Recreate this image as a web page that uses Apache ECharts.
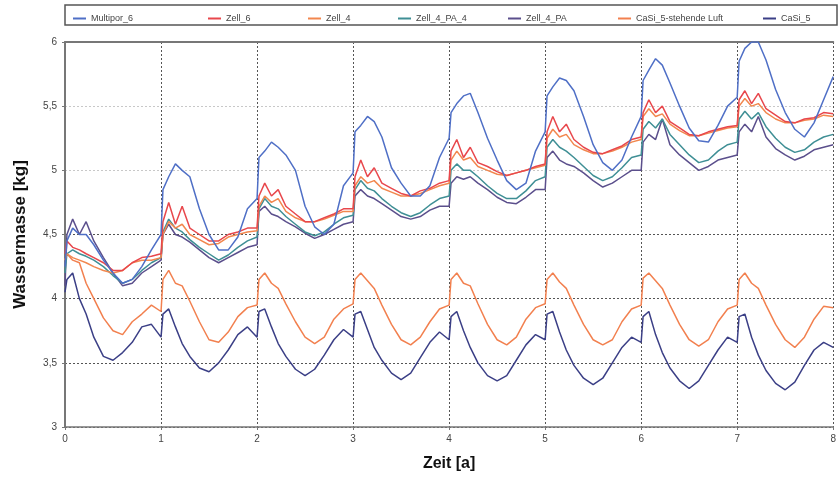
<!DOCTYPE html>
<html>
<head>
<meta charset="utf-8">
<script src="https://cdn.jsdelivr.net/npm/echarts@6/dist/echarts.min.js"></script>
<style>
  html, body { margin: 0; padding: 0; background: #fff; }
  #chart { width: 839px; height: 479px; }
</style>
</head>
<body>
<div id="chart"></div>
<script>
// Zeitpunkte [a]
let zeit = [
  0, 0.02, 0.08, 0.15, 0.22, 0.3, 0.4, 0.5, 0.6, 0.7, 0.8, 0.9,
  1, 1.02, 1.08, 1.15, 1.22, 1.3, 1.4, 1.5, 1.6, 1.7, 1.8, 1.9,
  2, 2.02, 2.08, 2.15, 2.22, 2.3, 2.4, 2.5, 2.6, 2.7, 2.8, 2.9,
  3, 3.02, 3.08, 3.15, 3.22, 3.3, 3.4, 3.5, 3.6, 3.7, 3.8, 3.9,
  4, 4.02, 4.08, 4.15, 4.22, 4.3, 4.4, 4.5, 4.6, 4.7, 4.8, 4.9,
  5, 5.02, 5.08, 5.15, 5.22, 5.3, 5.4, 5.5, 5.6, 5.7, 5.8, 5.9,
  6, 6.02, 6.08, 6.15, 6.22, 6.3, 6.4, 6.5, 6.6, 6.7, 6.8, 6.9,
  7, 7.02, 7.08, 7.15, 7.22, 7.3, 7.4, 7.5, 7.6, 7.7, 7.8, 7.9,
  8
]

let multipor6 = [
  4.25, 4.45, 4.55, 4.5, 4.5, 4.42, 4.3, 4.2, 4.12, 4.15, 4.25, 4.38,
  4.5, 4.85, 4.95, 5.05, 5.0, 4.95, 4.7, 4.5, 4.38, 4.38, 4.48, 4.7,
  4.78, 5.1, 5.15, 5.22, 5.18, 5.12, 5.0, 4.72, 4.56, 4.5, 4.58, 4.88,
  4.98, 5.3, 5.35, 5.42, 5.38, 5.26, 5.02, 4.9, 4.8, 4.8, 4.88, 5.1,
  5.25, 5.45, 5.52, 5.58, 5.6, 5.45, 5.25, 5.08, 4.92, 4.85, 4.9, 5.15,
  5.3, 5.58, 5.65, 5.72, 5.7, 5.62, 5.42, 5.2, 5.06, 5.0, 5.08, 5.26,
  5.42, 5.7, 5.78, 5.87, 5.82, 5.68, 5.5, 5.33, 5.23, 5.22, 5.35, 5.5,
  5.57, 5.85, 5.95, 6.0, 6.0, 5.86, 5.63, 5.45, 5.32, 5.26, 5.37, 5.55,
  5.73
]
let zell6 = [
  4.35, 4.45, 4.4, 4.38, 4.35, 4.32, 4.28, 4.22, 4.22, 4.28, 4.32, 4.33,
  4.35, 4.6, 4.75, 4.58, 4.72, 4.55, 4.5, 4.45, 4.45, 4.5, 4.52, 4.55,
  4.55, 4.8, 4.9, 4.8, 4.85, 4.72, 4.66, 4.6, 4.6, 4.63, 4.66, 4.7,
  4.7, 4.95, 5.08, 4.95, 5.02, 4.9, 4.86, 4.82, 4.8, 4.84, 4.86, 4.9,
  4.92, 5.15, 5.24, 5.1, 5.18, 5.06, 5.03, 4.99, 4.96, 4.98, 5.0, 5.03,
  5.05, 5.3, 5.42, 5.3, 5.36, 5.24, 5.18, 5.14, 5.13, 5.16, 5.19, 5.24,
  5.26, 5.45, 5.55, 5.45, 5.5, 5.38, 5.33, 5.28, 5.27, 5.3, 5.32, 5.34,
  5.35, 5.55, 5.62, 5.52, 5.6, 5.48, 5.43, 5.38, 5.37, 5.4, 5.41, 5.45,
  5.44
]
let zell4 = [
  4.3, 4.35, 4.32, 4.3, 4.28, 4.25, 4.22, 4.2, 4.22, 4.28, 4.3, 4.3,
  4.32, 4.5, 4.6, 4.55, 4.58, 4.5, 4.46, 4.42, 4.43, 4.48, 4.5, 4.52,
  4.53, 4.72, 4.8, 4.75, 4.78, 4.68, 4.63, 4.6, 4.6, 4.62, 4.65, 4.68,
  4.68, 4.88, 4.95, 4.9, 4.92, 4.86, 4.83, 4.8, 4.8, 4.82, 4.85, 4.88,
  4.9, 5.08, 5.15, 5.08, 5.1, 5.03, 5.0, 4.97, 4.96, 4.98, 5.0, 5.02,
  5.04, 5.25, 5.32, 5.26, 5.28, 5.2, 5.16, 5.13, 5.13, 5.15, 5.18, 5.22,
  5.24, 5.42, 5.48, 5.42, 5.44, 5.36, 5.31, 5.27, 5.27, 5.29, 5.31, 5.33,
  5.34, 5.5, 5.56, 5.5, 5.52, 5.45, 5.4, 5.37, 5.37, 5.39, 5.4, 5.43,
  5.42
]
let zell4pa4 = [
  4.2, 4.35, 4.38, 4.35, 4.33, 4.3, 4.25, 4.18, 4.12, 4.15, 4.22, 4.28,
  4.32, 4.52, 4.62, 4.55, 4.52, 4.46, 4.4, 4.35, 4.3, 4.34, 4.4, 4.45,
  4.48, 4.7, 4.78, 4.72, 4.7, 4.64, 4.58, 4.52, 4.49, 4.52, 4.58, 4.63,
  4.65, 4.85, 4.92, 4.86, 4.84, 4.78, 4.72, 4.67, 4.64, 4.67, 4.73, 4.78,
  4.8, 5.0, 5.05, 5.0, 5.0, 4.95, 4.88, 4.82, 4.78, 4.78, 4.84, 4.92,
  4.95, 5.18, 5.24, 5.18, 5.15, 5.1, 5.03, 4.96, 4.92, 4.95, 5.02, 5.1,
  5.12, 5.32, 5.38, 5.33, 5.4, 5.28, 5.2, 5.12, 5.06, 5.08, 5.15, 5.2,
  5.22, 5.4, 5.46, 5.4, 5.45, 5.34, 5.25, 5.18, 5.14, 5.16, 5.22, 5.26,
  5.28
]
let zell4pa = [
  4.1, 4.5, 4.62, 4.5, 4.6, 4.45, 4.32, 4.2, 4.1, 4.12, 4.2, 4.25,
  4.3, 4.5, 4.58, 4.5, 4.48, 4.44, 4.38, 4.32, 4.28, 4.32, 4.36, 4.4,
  4.42, 4.68, 4.72, 4.66, 4.64, 4.6, 4.56, 4.51, 4.47, 4.5, 4.54, 4.58,
  4.6, 4.8, 4.85, 4.8, 4.78, 4.74, 4.69, 4.64, 4.62, 4.64, 4.69, 4.72,
  4.72, 4.9, 4.95, 4.93, 4.95, 4.9, 4.85, 4.79, 4.75, 4.74, 4.79, 4.85,
  4.85, 5.1, 5.15, 5.08, 5.05, 5.03, 4.98, 4.92, 4.87, 4.9, 4.95, 5.0,
  5.0, 5.22, 5.28, 5.24, 5.4, 5.2, 5.12, 5.06, 5.0, 5.03, 5.08, 5.1,
  5.12, 5.3, 5.36, 5.3, 5.42, 5.26, 5.17, 5.12, 5.08, 5.11, 5.16, 5.18,
  5.2
]
let casi5Luft = [
  4.3, 4.35, 4.3, 4.28, 4.12, 4.0, 3.85, 3.75, 3.72, 3.82, 3.88, 3.95,
  3.9, 4.15, 4.22, 4.12, 4.1, 3.98, 3.82, 3.68, 3.66, 3.74, 3.86, 3.93,
  3.95, 4.15, 4.2, 4.12, 4.08, 3.96, 3.82, 3.7, 3.65, 3.7, 3.84, 3.92,
  3.96, 4.15, 4.2, 4.14, 4.08, 3.95, 3.8, 3.68, 3.64, 3.7, 3.82, 3.92,
  3.95, 4.15, 4.2, 4.12, 4.1, 3.96, 3.8, 3.68, 3.64, 3.7, 3.84, 3.93,
  3.96, 4.15, 4.2, 4.13, 4.08, 3.95, 3.8, 3.68, 3.64, 3.68, 3.82, 3.92,
  3.95, 4.16, 4.2, 4.14, 4.08, 3.95, 3.8, 3.68, 3.63, 3.68, 3.82, 3.92,
  3.95, 4.15, 4.2, 4.12, 4.08, 3.95, 3.8, 3.68, 3.62, 3.7, 3.84, 3.94,
  3.93
]
let casi5 = [
  4.05, 4.15, 4.2, 4.0, 3.88, 3.7, 3.55, 3.52, 3.58, 3.66, 3.78, 3.8,
  3.7, 3.88, 3.92, 3.78, 3.65, 3.55, 3.46, 3.43, 3.5, 3.6, 3.72, 3.78,
  3.7, 3.9, 3.92, 3.78, 3.65, 3.55, 3.45, 3.4, 3.45, 3.56, 3.68, 3.76,
  3.7, 3.88, 3.9, 3.76, 3.62, 3.52, 3.42, 3.37, 3.42, 3.54, 3.66, 3.74,
  3.68, 3.86, 3.9, 3.75, 3.62, 3.5, 3.4, 3.36, 3.4, 3.52, 3.64, 3.72,
  3.68, 3.88, 3.9, 3.74, 3.6, 3.48, 3.38, 3.33, 3.38, 3.5, 3.62, 3.7,
  3.66, 3.86, 3.9, 3.72, 3.58, 3.46, 3.36, 3.3, 3.36, 3.48, 3.6, 3.7,
  3.66, 3.86, 3.88, 3.7, 3.56, 3.44, 3.34, 3.29, 3.35, 3.48, 3.6, 3.66,
  3.62
]

let namen = ['Multipor_6', 'Zell_6', 'Zell_4', 'Zell_4_PA_4', 'Zell_4_PA', 'CaSi_5-stehende Luft', 'CaSi_5']
let werte = [multipor6, zell6, zell4, zell4pa4, zell4pa, casi5Luft, casi5]
let farben = ['#4f6fc6', '#e8474c', '#f2874e', '#3f8f95', '#5b4f8c', '#f2804f', '#3b3f86']
let legendeX = [68, 203, 303, 393, 503, 613, 758]

let chart = echarts.init(document.querySelector('#chart'))

let series = []
let legends = []
for (let i = 0; i < namen.length; i++) {
    let d = []
    for (let j = 0; j < zeit.length; j++) {
        d.push([zeit[j], werte[i][j]])
    }
    series.push({
        name: namen[i],
        type: 'line',
        data: d,
        symbol: 'none',
        clip: true,
        lineStyle: { width: 1.5, color: farben[i] },
        itemStyle: { color: farben[i] },
        z: 10 - i
    })
    legends.push({
        data: [namen[i]],
        left: legendeX[i],
        top: 9,
        icon: 'rect',
        itemWidth: 13,
        itemHeight: 2,
        itemGap: 4,
        textStyle: { fontSize: 9, color: '#444', fontFamily: 'Liberation Sans Narrow, Liberation Sans, sans-serif' }
    })
}

let option = {
    backgroundColor: '#fff',
    animation: false,
    legend: legends,
    graphic: [{
        type: 'rect',
        shape: { x: 65, y: 5, width: 772, height: 20 },
        style: { fill: 'none', stroke: '#555', lineWidth: 1.5 }
    }],
    grid: { left: 65, right: 4, top: 42, bottom: 52 },
    xAxis: [{
        type: 'value',
        min: 0,
        max: 8,
        interval: 1,
        name: 'Zeit [a]',
        nameLocation: 'middle',
        nameGap: 29,
        nameTextStyle: { fontSize: 16, fontWeight: 'bold', color: '#111', fontFamily: 'Liberation Sans Narrow, Liberation Sans, sans-serif' },
        axisLine: { lineStyle: { color: '#777', width: 1.5 } },
        axisTick: { show: true, length: 3, lineStyle: { color: '#777' } },
        axisLabel: { fontSize: 10, color: '#444', margin: 7 },
        splitLine: { show: true, lineStyle: { color: '#555', type: [2, 2], width: 1 } }
    }, {
        type: 'value',
        position: 'top',
        min: 0,
        max: 8,
        axisLine: { show: true, lineStyle: { color: '#777', width: 2 } },
        axisTick: { show: false },
        axisLabel: { show: false },
        splitLine: { show: false }
    }],
    yAxis: {
        type: 'value',
        min: 3,
        max: 6,
        interval: 0.5,
        name: 'Wassermasse [kg]',
        nameLocation: 'middle',
        nameGap: 36,
        nameTextStyle: { fontSize: 17, fontWeight: 'bold', color: '#111', fontFamily: 'Liberation Sans Narrow, Liberation Sans, sans-serif' },
        axisLine: { show: true, lineStyle: { color: '#777', width: 2 } },
        axisTick: { show: true, length: 3, lineStyle: { color: '#777' } },
        axisLabel: {
            fontSize: 10,
            color: '#444',
            margin: 8,
            formatter: function (v) { return String(v).replace('.', ',') }
        },
        splitLine: {
            show: true,
            lineStyle: { color: ['#555', '#555', '#555', '#555', '#c8c8c8', '#c8c8c8', '#777'], type: [2, 2], width: 1 }
        }
    },
    series: series
}

chart.setOption(option)
</script>
</body>
</html>
